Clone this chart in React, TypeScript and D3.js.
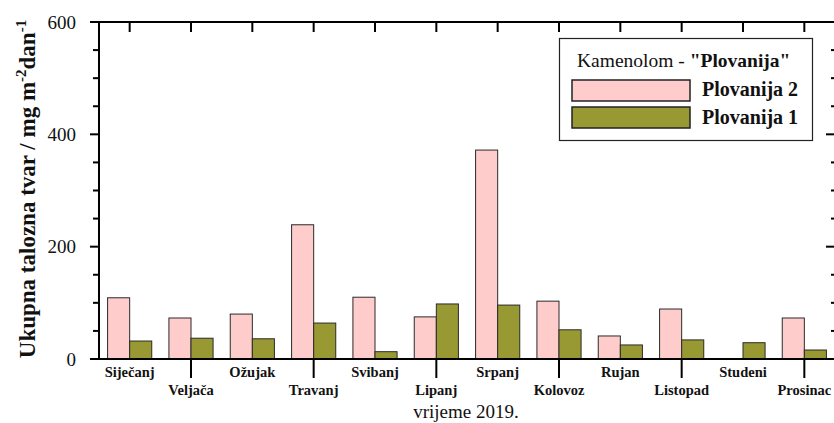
import React from "react";
import * as d3 from "d3";

const months = ["Siječanj", "Veljača", "Ožujak", "Travanj", "Svibanj", "Lipanj", "Srpanj", "Kolovoz", "Rujan", "Listopad", "Studeni", "Prosinac"];
const plovanija2 = [109, 73, 80, 239, 110, 75, 372, 103, 41, 89, 0, 73];
const plovanija1 = [32, 37, 36, 64, 13, 98, 96, 52, 25, 34, 29, 16];
const yTicks = [0, 200, 400, 600];
const yMinor = [50, 100, 150, 250, 300, 350, 450, 500, 550];
const seriesNames = ["Plovanija 2", "Plovanija 1"];
const colors = ["#FFCCCC", "#999933"];

const W = 834, H = 423;
const L = 99, R = 835, T = 22, B = 359;
const FONT = "Liberation Serif";

export default function App() {
  const x = d3.scaleBand<string>().domain(months).range([L, R]).padding(0);
  const y = d3.scaleLinear().domain([0, 600]).range([B, T]);
  const bw = x.bandwidth() * 0.36;
  const cx = (m: string) => (x(m) as number) + x.bandwidth() / 2;

  return (
    <svg width={W} height={H} style={{ position: "absolute", left: 0, top: 0, background: "#fff", fontFamily: FONT }}>
      {/* bars */}
      {months.map((m, i) => (
        <g key={m}>
          {plovanija2[i] > 0 && (
            <rect x={cx(m) - bw} y={y(plovanija2[i])} width={bw} height={B - y(plovanija2[i])} fill={colors[0]} stroke="#2a2a2a" strokeWidth={1} />
          )}
          <rect x={cx(m)} y={y(plovanija1[i])} width={bw} height={B - y(plovanija1[i])} fill={colors[1]} stroke="#2a2a2a" strokeWidth={1} />
        </g>
      ))}

      {/* frame */}
      <line x1={L} x2={R} y1={T} y2={T} stroke="#000" strokeWidth={2} />
      <line x1={L} x2={R} y1={B} y2={B} stroke="#000" strokeWidth={2} />
      <line x1={L} x2={L} y1={T - 1} y2={B + 1} stroke="#000" strokeWidth={2} />
      <line x1={R} x2={R} y1={T - 1} y2={B + 1} stroke="#000" strokeWidth={2} />

      {/* left ticks */}
      {yTicks.map((t) => (
        <g key={"yt" + t}>
          <line x1={L - 9} x2={L} y1={y(t)} y2={y(t)} stroke="#000" strokeWidth={2} />
          <line x1={R - 9} x2={R} y1={y(t)} y2={y(t)} stroke="#000" strokeWidth={2} />
          <text x={76} y={y(t) + 6.5} textAnchor="end" fontFamily={FONT} fontSize={19} fill="#111">{t}</text>
        </g>
      ))}
      {yMinor.map((t) => (
        <g key={"ym" + t}>
          <line x1={L - 6} x2={L} y1={y(t)} y2={y(t)} stroke="#000" strokeWidth={2} />
          <line x1={R - 4} x2={R} y1={y(t)} y2={y(t)} stroke="#000" strokeWidth={2} />
        </g>
      ))}

      {/* top ticks */}
      {months.map((m) => (
        <line key={"tt" + m} x1={cx(m)} x2={cx(m)} y1={T} y2={T + 10} stroke="#000" strokeWidth={2} />
      ))}

      {/* bottom ticks & labels */}
      {months.map((m, i) => (
        <g key={"bt" + m}>
          {i % 2 === 1 && <line x1={cx(m)} x2={cx(m)} y1={B} y2={B + 19} stroke="#000" strokeWidth={2} />}
          <text x={cx(m)} y={i % 2 === 0 ? 377 : 395} textAnchor="middle" fontFamily={FONT} fontSize={14.5} fontWeight="bold" fill="#111">{m}</text>
        </g>
      ))}

      {/* x title */}
      <text x={466} y={418} textAnchor="middle" fontFamily={FONT} fontSize={19} fill="#111">vrijeme 2019.</text>

      {/* y title */}
      <text transform={`translate(35,${189}) rotate(-90)`} textAnchor="middle" fontFamily={FONT} fontSize={23} fontWeight="bold" fill="#111">
        Ukupna talozna tvar / mg m<tspan dy={-9} fontSize={15}>-2</tspan><tspan dy={9}>dan</tspan><tspan dy={-9} fontSize={15}>-1</tspan>
      </text>

      {/* legend */}
      <rect x={559.5} y={38.5} width={253} height={102} fill="#fff" stroke="#222" strokeWidth={1.2} />
      <text x={577} y={67} fontFamily={FONT} fontSize={19.5} fill="#111">
        Kamenolom - <tspan fontWeight="bold">"Plovanija"</tspan>
      </text>
      {seriesNames.map((s, i) => (
        <g key={s}>
          <rect x={572} y={80 + i * 27} width={118} height={21} fill={colors[i]} stroke="#222" strokeWidth={1.5} />
          <text x={702} y={96 + i * 27.5} fontFamily={FONT} fontSize={20} fontWeight="bold" fill="#111">{s}</text>
        </g>
      ))}
    </svg>
  );
}
